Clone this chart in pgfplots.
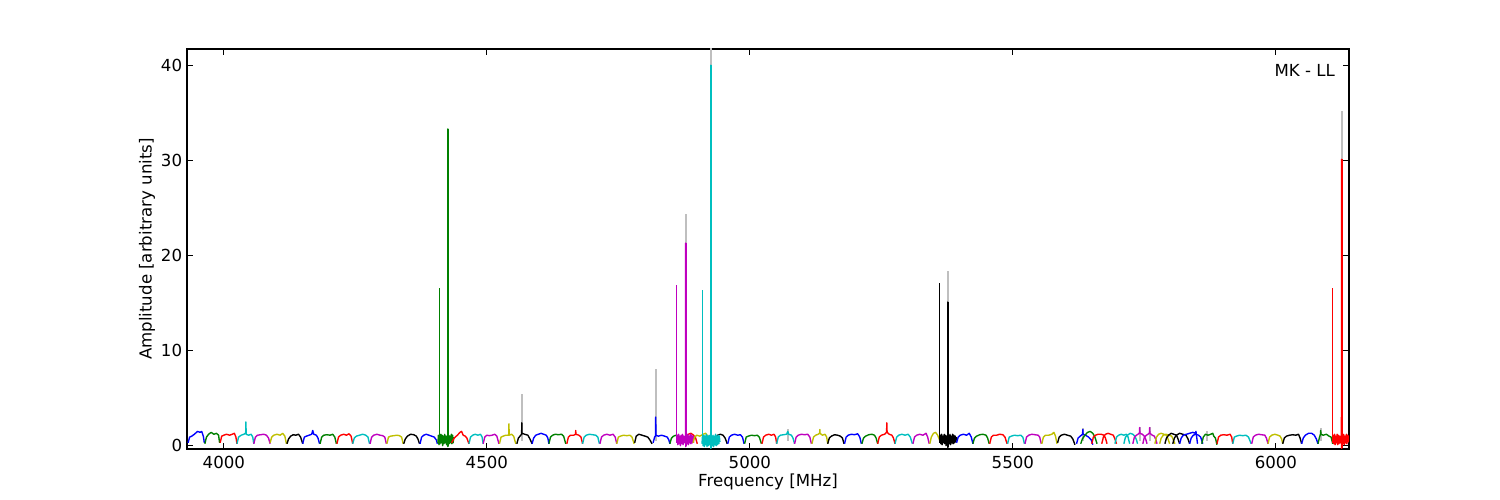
\documentclass[border=0pt]{standalone}
\usepackage{fontspec}
\setmainfont{DejaVu Sans}
\usepackage{pgfplots}
\pgfplotsset{compat=1.18}

\definecolor{mb}{rgb}{0,0,1}
\definecolor{mg}{rgb}{0,0.5,0}
\definecolor{mr}{rgb}{1,0,0}
\definecolor{mc}{rgb}{0,0.75,0.75}
\definecolor{mm}{rgb}{0.75,0,0.75}
\definecolor{my}{rgb}{0.75,0.75,0}
\definecolor{mk}{rgb}{0,0,0}
\definecolor{mgray}{rgb}{0.75,0.75,0.75}

\pgfplotsset{
  sw/.style={line width=1bp, line join=round},
  sb/.style={mb, sw}, sg/.style={mg, sw}, sr/.style={mr, sw},
  sc/.style={mc, sw}, sm/.style={mm, sw}, sy/.style={my, sw},
  sk/.style={mk, sw},
  thin spike/.style={line width=0.7bp},
  thick spike/.style={line width=1.5bp},
  gray spike/.style={mgray, line width=1.5bp},
}

\begin{document}
\begin{tikzpicture}
\path (0,0) rectangle (1080bp,360bp);
\begin{axis}[
  at={(134.64bp,36.72bp)}, anchor=south west,
  width=836.64bp, height=288bp, scale only axis,
  xmin=3930, xmax=6139, ymin=-0.35, ymax=41.7,
  xtick={4000,4500,...,6000}, ytick={0,10,...,40},
  minor tick num=0,
  tick align=inside, major tick length=4bp,
  axis line style={line width=0.8bp},
  every tick/.style={black, line width=0.7bp},
  xticklabel shift=2bp,
  tick label style={font=\fontsize{12}{14}\selectfont},
  label style={font=\fontsize{12}{14}\selectfont},
  /pgf/number format/assume math mode=true,
  /pgf/number format/1000 sep={},
  xlabel={Frequency [MHz]}, ylabel={Amplitude [arbitrary units]},
  xlabel style={at={(axis description cs:0.5,-0.082)}, anchor=center},
  ylabel style={at={(axis description cs:-0.0344,0.5)}, anchor=center},
]
% gray (unflagged) spikes underneath
\addplot[gray spike] coordinates {(4566.5,0.5) (4566.5,5.4)};
\addplot[gray spike] coordinates {(4821,0.5) (4821,8.1)};
\addplot[gray spike] coordinates {(4878,0.5) (4878,24.4)};
\addplot[gray spike] coordinates {(4925.8,0.5) (4925.8,42.5)};
\addplot[gray spike] coordinates {(5072,0.5) (5072,1.75)};
\addplot[gray spike] coordinates {(5376.3,0.5) (5376.3,18.4)};
\addplot[gray spike] coordinates {(5633,0.5) (5633,1.9)};
\addplot[gray spike] coordinates {(5741,0.5) (5741,2.0)};
\addplot[gray spike] coordinates {(5760,0.5) (5760,2.0)};
\addplot[gray spike] coordinates {(5869,0.5) (5869,1.5)};
\addplot[gray spike] coordinates {(6085,0.5) (6085,1.9)};
\addplot[gray spike] coordinates {(6124.8,0.5) (6124.8,35.2)};

% spectral windows
\addplot[sb] coordinates {(3932,0.3)(3935,0.9)(3939,1.0)(3944,1.2)(3950,1.5)(3955,1.4)(3958,1.5)(3961,1.0)(3963,0.3)};
\addplot[sg] coordinates {(3964,0.2)(3967,0.9)(3971,1.2)(3976,1.4)(3981,1.2)(3986,1.3)(3990,1.1)(3992,0.3)};
\addplot[sr] coordinates {(3993,0.3)(3996,1.0)(4000,1.1)(4005,1.2)(4011,1.1)(4016,1.2)(4020,1.3)(4023,0.9)(4025,0.2)};
\addplot[sc] coordinates {(4025,0.2)(4028,0.9)(4033,1.1)(4038,1.2)(4041.5,1.3)(4042,2.5)(4042.5,1.2)(4047,1.1)(4052,1.2)(4055,0.9)(4057,0.2)};
\addplot[sm] coordinates {(4057,0.2)(4060,0.9)(4064,1.1)(4070,1.15)(4076,1.2)(4081,1.1)(4085,0.8)(4088,0.2)};
\addplot[sy] coordinates {(4088,0.3)(4091,0.9)(4095,1.1)(4101,1.2)(4107,1.1)(4112,1.3)(4116,1.0)(4119,0.2)};
\addplot[sk] coordinates {(4120,0.2)(4123,0.7)(4127,1.0)(4132,1.15)(4137,1.1)(4142,1.2)(4146,0.9)(4150,0.2)};
\addplot[sb] coordinates {(4150,0.2)(4153,0.9)(4157,1.0)(4162,1.1)(4167,1.2)(4169,1.6)(4171,1.2)(4176,1.1)(4179,0.8)(4182,0.2)};
\addplot[sg] coordinates {(4183,0.2)(4186,0.9)(4190,1.1)(4196,1.15)(4202,1.1)(4207,1.2)(4211,0.9)(4214,0.2)};
\addplot[sr] coordinates {(4215,0.2)(4218,0.9)(4222,1.1)(4228,1.2)(4233,1.1)(4238,1.25)(4242,1.0)(4245,0.2)};
\addplot[sc] coordinates {(4245,0.2)(4248,0.8)(4252,1.0)(4258,1.1)(4264,1.2)(4270,1.1)(4274,0.9)(4277,0.2)};
\addplot[sm] coordinates {(4278,0.2)(4281,0.9)(4285,1.1)(4291,1.2)(4297,1.1)(4302,1.05)(4306,0.9)(4309,0.2)};
\addplot[sy] coordinates {(4310,0.2)(4313,0.9)(4317,1.0)(4323,1.05)(4329,1.1)(4334,1.05)(4338,0.9)(4341,0.2)};
\addplot[sk] coordinates {(4342,0.2)(4345,0.7)(4349,1.0)(4355,1.2)(4361,1.15)(4366,1.0)(4369,0.7)(4372,0.2)};
\addplot[sb] coordinates {(4373,0.2)(4376,0.9)(4380,1.1)(4385,1.2)(4390,1.1)(4395,1.0)(4400,0.9)(4404,0.6)(4406,0.2)};
\addplot[sg] coordinates {(4407,0.3)(4408,1.1)(4409,0.1)(4410,1.0)(4411,0.2)(4412.5,1.2)(4413.5,0.3)(4415,1.1)(4416,0.0)(4417.5,1.0)(4418.5,0.2)(4420,1.2)(4421,0.3)(4422.5,1.0)(4423.5,0.1)(4425.6,1.1)(4425.8,33.3)(4426,-0.1)(4427.5,1.1)(4428.5,0.2)(4430,1.0)(4431,0.3)(4432.5,1.2)(4433.5,0.2)(4435,1.1)(4436,0.3)(4437,0.9)};
\addplot[sr] coordinates {(4433,0.3)(4438,0.8)(4444,1.1)(4449,1.4)(4452,1.5)(4455,1.1)(4459,1.0)(4462,0.8)(4466,0.2)};
\addplot[sc] coordinates {(4466,0.2)(4469,0.9)(4473,1.1)(4478,1.2)(4483,1.1)(4488,1.2)(4491,0.9)(4493,0.2)};
\addplot[sm] coordinates {(4493,0.2)(4496,0.9)(4500,1.1)(4505,1.05)(4510,1.1)(4515,1.2)(4519,1.0)(4523,0.2)};
\addplot[sy] coordinates {(4524,0.2)(4527,0.9)(4531,1.0)(4536,1.1)(4541.5,1.1)(4542,2.3)(4542.5,1.1)(4547,1.2)(4551,1.0)(4555,0.2)};
\addplot[sk] coordinates {(4557,0.2)(4560,0.8)(4563,1.0)(4566.1,1.2)(4566.5,2.4)(4566.9,1.3)(4572,1.2)(4578,1.1)(4582,0.7)(4586,0.2)};
\addplot[sb] coordinates {(4586,0.2)(4589,0.8)(4593,1.1)(4598,1.2)(4603,1.3)(4608,1.2)(4613,1.1)(4616,0.8)(4618,0.2)};
\addplot[sg] coordinates {(4618,0.2)(4621,0.9)(4625,1.1)(4630,1.2)(4636,1.15)(4642,1.2)(4646,1.0)(4650,0.2)};
\addplot[sr] coordinates {(4652,0.2)(4655,0.9)(4659,1.1)(4665,1.1)(4668.7,1.2)(4669,1.6)(4669.3,1.2)(4675,1.1)(4679,0.9)(4682,0.2)};
\addplot[sc] coordinates {(4682,0.2)(4685,0.9)(4689,1.1)(4695,1.2)(4701,1.15)(4707,1.1)(4711,0.9)(4714,0.2)};
\addplot[sm] coordinates {(4715,0.2)(4718,0.9)(4722,1.1)(4728,1.2)(4734,1.1)(4740,1.2)(4744,0.9)(4747,0.2)};
\addplot[sy] coordinates {(4747,0.2)(4750,0.9)(4754,1.0)(4760,1.1)(4766,1.05)(4772,1.1)(4776,0.9)(4780,0.2)};
\addplot[sk] coordinates {(4781,0.3)(4784,1.0)(4789,1.2)(4795,1.1)(4801,1.0)(4806,0.9)(4810,0.6)(4814,0.2)};
\addplot[sb] coordinates {(4816,0.3)(4819,0.9)(4820.5,1.0)(4821,3.0)(4821.5,1.1)(4826,1.0)(4832,1.1)(4838,1.0)(4843,0.9)(4846,0.6)(4848,0.2)};
\addplot[sg] coordinates {(4848,0.2)(4851,0.8)(4855,1.0)(4860,1.1)(4865,0.9)(4868,0.3)};
\addplot[sr] coordinates {(4876,0.3)(4879,0.9)(4883,1.2)(4888,1.3)(4893,1.1)(4897,0.8)(4900,0.2)};
\addplot[sm] coordinates {(4861,0.3)(4862,1.1)(4863,0.1)(4864.5,1.2)(4865.5,0.2)(4867,1.0)(4868,0.0)(4869.5,1.1)(4870.5,0.2)(4872,1.2)(4873,0.1)(4874.5,1.0)(4875.5,0.3)(4877.8,1.1)(4878,21.3)(4878.2,-0.1)(4879.5,1.1)(4880.5,0.2)(4882,1.2)(4883,0.1)(4884.5,1.0)(4885.5,0.3)(4887,1.2)(4888,0.2)(4889.5,1.1)(4890.5,0.3)(4892,1.0)(4893,0.3)};
\addplot[sy] coordinates {(4892,0.3)(4895,0.9)(4899,1.1)(4905,1.0)(4911,1.2)(4916,1.3)(4920,1.0)(4924,0.3)};
\addplot[sk] coordinates {(4930,0.3)(4934,0.8)(4939,1.1)(4944,1.2)(4949,1.1)(4953,0.8)(4957,0.2)};
\addplot[sc] coordinates {(4909,0.2)(4910,1.0)(4911,0.0)(4912.5,1.1)(4913.5,-0.1)(4915,1.0)(4916,0.1)(4917.5,1.2)(4918.5,-0.1)(4920,1.0)(4921,0.0)(4922.5,1.1)(4923.5,0.1)(4925.6,1.0)(4925.8,40.0)(4926,-0.3)(4927.5,1.0)(4928.5,0.0)(4930,1.1)(4931,-0.1)(4932.5,1.0)(4933.5,0.1)(4935,1.2)(4936,0.0)(4937.5,1.0)(4938.5,0.1)(4940,1.1)(4941,0.2)(4942,1.0)(4943,0.4)};
\addplot[sb] coordinates {(4958,0.2)(4961,0.9)(4965,1.1)(4971,1.2)(4977,1.1)(4982,1.15)(4986,0.9)(4989,0.2)};
\addplot[sg] coordinates {(4990,0.2)(4993,0.9)(4997,1.0)(5003,1.1)(5009,1.05)(5014,1.1)(5018,0.9)(5022,0.2)};
\addplot[sr] coordinates {(5023,0.2)(5026,0.9)(5030,1.1)(5036,1.2)(5041,1.1)(5046,1.2)(5049,0.9)(5051,0.2)};
\addplot[sc] coordinates {(5051,0.2)(5054,0.9)(5058,1.1)(5064,1.15)(5070,1.2)(5072,1.5)(5074,1.2)(5079,1.1)(5082,0.8)(5085,0.2)};
\addplot[sm] coordinates {(5085,0.2)(5088,0.9)(5092,1.1)(5098,1.2)(5104,1.15)(5110,1.2)(5114,0.9)(5117,0.2)};
\addplot[sy] coordinates {(5118,0.2)(5121,0.9)(5125,1.1)(5130,1.2)(5132.6,1.3)(5133,1.7)(5133.4,1.3)(5138,1.1)(5143,1.2)(5146,0.9)(5148,0.2)};
\addplot[sk] coordinates {(5148,0.2)(5151,0.8)(5155,1.0)(5161,1.15)(5167,1.1)(5172,1.0)(5176,0.8)(5179,0.2)};
\addplot[sb] coordinates {(5180,0.2)(5183,0.9)(5187,1.1)(5193,1.2)(5199,1.15)(5205,1.25)(5209,0.9)(5212,0.2)};
\addplot[sg] coordinates {(5213,0.2)(5216,0.8)(5220,1.0)(5226,1.15)(5232,1.2)(5237,1.1)(5240,0.8)(5243,0.2)};
\addplot[sr] coordinates {(5243,0.2)(5246,0.9)(5250,1.1)(5256,1.2)(5259.9,1.4)(5260.4,2.4)(5260.9,1.4)(5265,1.2)(5270,1.1)(5273,0.8)(5276,0.2)};
\addplot[sc] coordinates {(5276,0.2)(5279,0.9)(5283,1.1)(5289,1.2)(5295,1.1)(5301,1.2)(5305,0.9)(5309,0.2)};
\addplot[sm] coordinates {(5310,0.2)(5313,0.9)(5317,1.1)(5323,1.2)(5329,1.1)(5335,1.3)(5338,0.9)(5341,0.2)};
\addplot[sy] coordinates {(5342,0.2)(5345,0.9)(5349,1.3)(5353,1.4)(5357,1.1)(5360,0.7)(5362,0.3)};
\addplot[sk] coordinates {(5361,0.3)(5362,1.1)(5363,0.2)(5364.5,1.2)(5365.5,0.1)(5367,1.0)(5368,0.3)(5369.5,1.2)(5370.5,0.2)(5372,1.1)(5373,0.0)(5374.5,1.0)(5376.1,0.9)(5376.3,15.1)(5376.5,-0.2)(5378,1.1)(5379,0.2)(5380.5,1.2)(5381.5,0.1)(5383,1.0)(5384,0.3)(5385.5,1.2)(5386.5,0.2)(5388,1.1)(5389,0.3)(5390.5,1.0)(5391.5,0.4)(5393,0.9)};
\addplot[sb] coordinates {(5393,0.3)(5396,0.9)(5400,1.1)(5406,1.2)(5412,1.1)(5417,1.3)(5421,0.9)(5424,0.2)};
\addplot[sg] coordinates {(5424,0.2)(5427,0.8)(5431,1.0)(5437,1.15)(5443,1.2)(5449,1.1)(5452,0.8)(5455,0.2)};
\addplot[sr] coordinates {(5456,0.2)(5459,0.9)(5463,1.1)(5469,1.1)(5475,1.2)(5481,1.15)(5485,0.9)(5489,0.2)};
\addplot[sc] coordinates {(5490,0.2)(5493,0.9)(5497,1.0)(5503,1.1)(5509,1.05)(5515,1.1)(5519,0.9)(5522,0.2)};
\addplot[sm] coordinates {(5523,0.2)(5526,0.9)(5530,1.1)(5536,1.2)(5542,1.15)(5548,1.1)(5551,0.9)(5554,0.2)};
\addplot[sy] coordinates {(5555,0.2)(5558,0.9)(5562,1.1)(5568,1.1)(5574,1.2)(5578,1.4)(5581,1.0)(5584,0.2)};
\addplot[sk] coordinates {(5585,0.3)(5588,0.9)(5592,1.1)(5598,1.2)(5604,1.1)(5610,1.0)(5614,0.7)(5618,0.1)};
% overlapping windows
\addplot[sb] coordinates {(5621,0.2)(5624,0.8)(5628,1.0)(5632.5,1.2)(5633,1.7)(5633.5,1.2)(5638,1.1)(5644,0.9)(5649,0.6)(5652,0.1)};
\addplot[sg] coordinates {(5629,0.2)(5632,0.7)(5637,1.1)(5642,1.4)(5647,1.5)(5652,1.3)(5656,0.9)(5660,0.2)};
\addplot[sr] coordinates {(5650,0.2)(5653,0.9)(5657,1.1)(5662,1.2)(5668,1.2)(5673,1.1)(5676,0.8)(5679,0.2)};
\addplot[sr] coordinates {(5669,0.2)(5672,0.9)(5676,1.2)(5681,1.3)(5686,1.2)(5691,1.1)(5694,0.7)(5697,0.2)};
\addplot[sc] coordinates {(5694,0.2)(5697,0.9)(5701,1.1)(5706,1.2)(5711,1.1)(5716,1.2)(5719,0.9)(5722,0.2)};
\addplot[sc] coordinates {(5711,0.2)(5714,0.9)(5718,1.1)(5723,1.3)(5728,1.2)(5732,1.0)(5735,0.6)(5737,0.2)};
\addplot[sm] coordinates {(5728,0.2)(5731,0.9)(5735,1.1)(5740.5,1.3)(5741,1.9)(5741.5,1.3)(5746,1.2)(5750,1.0)(5753,0.6)(5755,0.2)};
\addplot[sm] coordinates {(5747,0.2)(5750,0.9)(5754,1.1)(5759.5,1.3)(5760,1.9)(5760.5,1.3)(5765,1.1)(5769,1.0)(5772,0.6)(5774,0.2)};
\addplot[sy] coordinates {(5770,0.2)(5773,0.9)(5777,1.2)(5782,1.3)(5787,1.2)(5792,1.1)(5795,0.7)(5798,0.2)};
\addplot[sy] coordinates {(5779,0.2)(5782,0.8)(5786,1.1)(5791,1.2)(5797,1.1)(5802,1.0)(5805,0.6)(5808,0.2)};
\addplot[sk] coordinates {(5789,0.2)(5792,0.8)(5796,1.1)(5801,1.3)(5806,1.2)(5811,1.1)(5814,0.7)(5817,0.2)};
\addplot[sk] coordinates {(5804,0.2)(5807,0.8)(5811,1.1)(5817,1.3)(5823,1.2)(5829,1.1)(5833,0.7)(5836,0.2)};
\addplot[sb] coordinates {(5817,0.2)(5820,0.8)(5824,1.1)(5830,1.2)(5836,1.3)(5842,1.4)(5847,1.3)(5848,1.5)(5849,1.1)(5851,0.2)};
\addplot[sb] coordinates {(5836,0.2)(5839,0.8)(5843,1.1)(5848,1.2)(5853,1.1)(5857,0.9)(5861,0.2)};
\addplot[sg] coordinates {(5859,0.2)(5862,0.9)(5866,1.2)(5871,1.1)(5876,1.2)(5880,1.3)(5882,1.0)(5885,0.8)(5888,0.1)};
\addplot[sr] coordinates {(5888,0.2)(5891,0.9)(5895,1.1)(5901,1.15)(5907,1.1)(5913,1.2)(5916,0.9)(5918,0.2)};
\addplot[sc] coordinates {(5918,0.2)(5921,0.9)(5925,1.0)(5931,1.1)(5937,1.05)(5943,1.1)(5948,0.9)(5953,0.2)};
\addplot[sm] coordinates {(5954,0.2)(5957,0.9)(5961,1.1)(5967,1.2)(5973,1.15)(5979,1.1)(5982,0.8)(5985,0.2)};
\addplot[sy] coordinates {(5985,0.2)(5988,0.9)(5992,1.1)(5998,1.2)(6004,1.1)(6008,1.0)(6011,0.7)(6013,0.2)};
\addplot[sk] coordinates {(6013,0.2)(6016,0.8)(6020,1.0)(6026,1.1)(6032,1.15)(6038,1.1)(6043,1.2)(6046,0.8)(6049,0.2)};
\addplot[sb] coordinates {(6049,0.2)(6052,0.8)(6056,1.1)(6062,1.3)(6068,1.3)(6073,1.1)(6077,0.7)(6080,0.2)};
\addplot[sg] coordinates {(6080,0.2)(6083,0.9)(6084.7,1.2)(6085.2,1.6)(6085.7,1.2)(6090,1.1)(6096,1.2)(6101,1.0)(6105,0.9)(6108,0.2)};
\addplot[sr] coordinates {(6108,0.3)(6109,1.1)(6110,0.2)(6111.5,1.2)(6112.5,0.1)(6114,1.0)(6115,0.3)(6116.5,1.2)(6117.5,0.1)(6119,1.1)(6120,0.2)(6121.5,1.0)(6122.5,0.3)(6124.6,1.1)(6124.8,30.1)(6125,-0.3)(6126.5,1.1)(6127.5,0.2)(6129,1.2)(6130,0.1)(6131.5,1.0)(6132.5,0.3)(6134,1.2)(6135,0.2)(6136.5,1.1)(6137.5,0.4)(6139,1.0)(6140,0.5)};

% main spikes drawn solid on top of their windows
\addplot[mg, thick spike] coordinates {(4425.8,0.0) (4425.8,33.3)};
\addplot[mm, thick spike] coordinates {(4878,0.0) (4878,21.3)};
\addplot[mc, thick spike] coordinates {(4925.8,-0.2) (4925.8,40.0)};
\addplot[mk, thick spike] coordinates {(5376.3,-0.1) (5376.3,15.1)};
\addplot[mr, thick spike] coordinates {(6124.8,-0.2) (6124.8,30.1)};

% thinner companion spikes
\addplot[mg, thin spike] coordinates {(4410.6,0.5) (4410.6,16.6)};
\addplot[mm, thin spike] coordinates {(4861,0.5) (4861,16.9)};
\addplot[mc, thin spike] coordinates {(4910.6,0.5) (4910.6,16.4)};
\addplot[mk, thin spike] coordinates {(5361,0.5) (5361,17.1)};
\addplot[mr, thin spike] coordinates {(6107.6,0.5) (6107.6,16.6)};

\node[anchor=east, inner sep=0pt, font=\fontsize{12}{14}\selectfont] at (rel axis cs:0.988,0.9475) {MK - LL};
\end{axis}
\end{tikzpicture}
\end{document}
